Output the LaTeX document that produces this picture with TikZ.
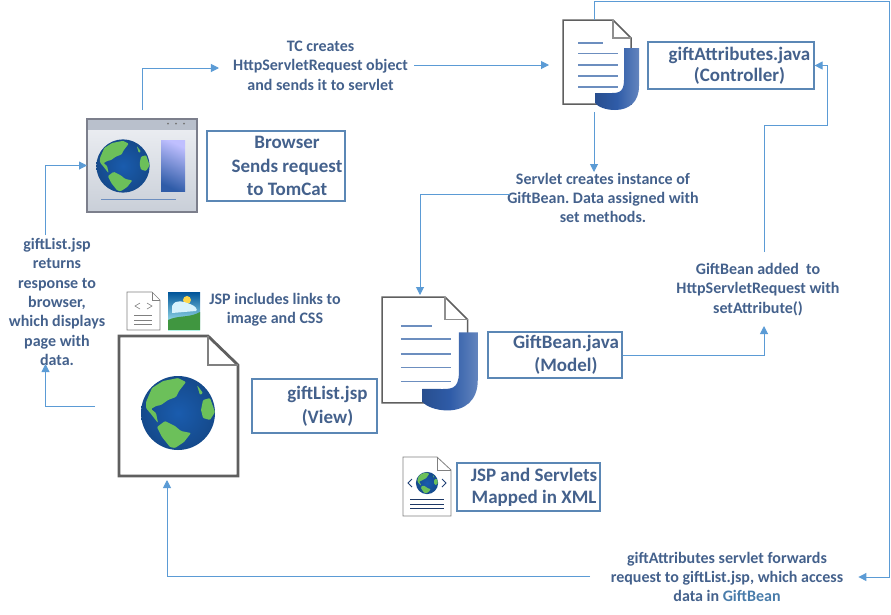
\documentclass[tikz,border=0pt]{standalone}
\usepackage{fontspec}
\setmainfont{Carlito}[BoldFont=Carlito Bold]
\usetikzlibrary{arrows.meta,calc,positioning}
\definecolor{flowblue}{HTML}{5B9BD5}
\definecolor{boxblue}{HTML}{5B87B5}
\definecolor{txtblue}{HTML}{44618C}
\definecolor{docgrey}{HTML}{5F5F5F}
\definecolor{linblue}{HTML}{6C8EBF}
\definecolor{jblue}{HTML}{2F5CA8}
\definecolor{oceanblue}{HTML}{1A5CAE}
\definecolor{landgreen}{HTML}{6CC05A}
\definecolor{winframe}{HTML}{7C7F8C}
\definecolor{wintitle}{HTML}{B9C0CC}
\definecolor{wintop}{HTML}{EEF0F4}
\definecolor{winbot}{HTML}{C9CFD8}
\frenchspacing

\tikzset{
  flow/.style={flowblue, line width=1pt, -{Triangle[length=8pt,width=8pt]}},
  outbox/.style={draw=boxblue, line width=1.2pt, inner sep=0pt},
  boxtxt/.style={txtblue, font=\fontsize{19}{23.5}\selectfont\bfseries, align=center},
  lbl/.style={txtblue, font=\fontsize{16}{19.4}\selectfont\bfseries, align=center},
  iconbox/.style={inner sep=0pt, outer sep=0pt},
  pics/globe/.style={code={
    % ocean and the land masses
    \shade[inner color=oceanblue, outer color=oceanblue!80!black] (0,0) circle (37);
    \begin{scope}[rounded corners=1pt]
    \fill[landgreen] (-32,-11) -- (-26,-25) -- (-15,-32) -- (0,-35) -- (8,-31) -- (1,-22) -- (-2,-16)
      -- (-10,-13) -- (-17,-8) -- (-22,-7) -- (-27,-4) -- (-22,0) -- (-20,10) -- (-27,1) -- (-32,-5) -- cycle;
    \fill[landgreen] (-21,14) -- (-13,8) -- (-3,13) -- (3,18) -- (13,20) -- (6,29) -- (-3,35) -- (-8,34) -- (-16,24) -- cycle;
    \fill[landgreen] (25,-13) -- (32,-15) -- (37,-1) -- (32,7) -- (25,5) -- (23,-3) -- cycle;
    \fill[landgreen] (19,-28) -- (25,-20) -- (22,-18) -- cycle;
    \end{scope}
  }},
  pics/javadoc/.style={code={
    % page, origin at its top left corner
    \draw[docgrey, line width=1.5pt, fill=white, line join=miter]
      (0,0) -- (50,0) -- (68,18) -- (68,84) -- (0,84) -- cycle;
    \draw[docgrey!70, line width=1.5pt] (50,0) -- (50,18) -- (68,18);
    \draw[linblue, line width=1.6pt] (15,23) -- (40,23);
    \foreach \yy in {33.5,45,56,67}
      \draw[linblue, line width=1.6pt] (15,\yy) -- (55,\yy);
    \shade[left color=jblue!85!black, right color=jblue!75!white, middle color=jblue]
      (61,28) -- (76,28) -- (76,66) .. controls (76,82) and (66,90) .. (52,90)
      .. controls (43,90) and (35,87) .. (32,83) -- (32,73) -- (45,73)
      .. controls (54,73) and (61,74) .. (61,60) -- cycle;
  }}
}

\begin{document}
\begin{tikzpicture}[x=1pt,y=-1pt,line cap=butt]

\useasboundingbox (0,0) rectangle (891,614);

% --- browser window
\node[iconbox, minimum width=110pt, minimum height=93pt] (browser) at (142,165.5) {};
\fill[top color=wintop, bottom color=winbot, draw=winframe, line width=2.4pt]
  (browser.north west) rectangle (browser.south east);
\fill[wintitle] (88,120) rectangle (196,130);
\foreach \xx in {168,176,184} \fill[black!55] (\xx,123.5) circle (1);
\pic[scale=0.72] at (123,166) {globe};
\shade[top color=blue!25!white, bottom color=jblue, shading angle=-25]
  (161,140) rectangle (185,191);
\draw[linblue, line width=1.4pt] (101,199.5) -- (176,199.5);

% --- controller, model and view pages
\node[iconbox, minimum width=76pt, minimum height=90pt, anchor=north west] (ctrldoc) at (563,20) {};
\pic at (ctrldoc.north west) {javadoc};
\node[iconbox, minimum width=95pt, minimum height=115pt, anchor=north west] (modeldoc) at (382,297) {};
\pic[scale=1.26] at (modeldoc.north west) {javadoc};

\node[iconbox, minimum width=119pt, minimum height=140pt, anchor=north west] (viewdoc) at (119,336) {};
\draw[docgrey, line width=2.8pt, fill=white, line join=miter]
  (119,336) -- (208,336) -- (238,365) -- (238,476) -- (119,476) -- cycle;
\draw[gray, line width=2.2pt] (208,336) -- (208,365) -- (238,365);
\pic at (178,413) {globe};

% --- css page and image
\node[iconbox, minimum width=33pt, minimum height=38pt, anchor=north west] (cssdoc) at (127,292) {};
\draw[gray, line width=0.6pt, fill=white] (127,292) -- (152,292) -- (160,300) -- (160,330) -- (127,330) -- cycle;
\draw[gray, line width=0.6pt] (152,292) -- (152,300) -- (160,300);
\draw[gray, line width=0.6pt] (140,303) -- (135,306) -- (140,309) (147,303) -- (152,306) -- (147,309);
\draw[gray, line width=0.6pt] (134,315) -- (152,315) (134,320) -- (152,320) (134,324) -- (152,324);

\node[iconbox, minimum width=32pt, minimum height=38pt, anchor=north west] (imgicon) at (168,292) {};
\shade[top color=blue!45!cyan!60!black, bottom color=cyan!25!white] (168,292) rectangle (200,330);
\fill[yellow!60!orange!70!white] (187,300) circle (4);
\fill[white!85!cyan] (172,306) .. controls (176,298) and (184,302) .. (190,304) .. controls (196,306) and (198,310) .. (196,311) -- (172,313) -- cycle;
\fill[green!45!black!75!white] (168,330) -- (168,320) .. controls (178,315) and (190,318) .. (200,312) -- (200,330) -- cycle;

% --- xml page
\node[iconbox, minimum width=48pt, minimum height=59pt, anchor=north west] (xmldoc) at (403,457) {};
\draw[gray, line width=0.8pt, fill=white] (403,457) -- (437,457) -- (451,470) -- (451,516) -- (403,516) -- cycle;
\draw[gray, line width=0.8pt] (437,457) -- (437,470) -- (451,470);
\pic[scale=0.3] at (427,483) {globe};
\draw[jblue!70!black, line width=0.8pt] (412,479) -- (408,483) -- (412,487) (442,479) -- (446,483) -- (442,487);
\draw[jblue!60!black, line width=0.8pt] (410,499.5) -- (444,499.5) (410,504) -- (444,504) (410,508) -- (444,508);

% --- boxes, their text sits right of centre
\node[outbox, minimum width=138pt, minimum height=70pt] (brwbox) at (276,166) {};
\node[boxtxt] (brwtxt) at (287,166) {Browser\\Sends request\\to TomCat};
\node[outbox, minimum width=166pt, minimum height=47pt] (ctrlbox) at (731,65.5) {};
\node[boxtxt, font=\fontsize{19}{21}\selectfont\bfseries] (ctrltxt) at (739.5,65.5) {giftAttributes.java\\(Controller)};
\node[outbox, minimum width=125pt, minimum height=54pt] (viewbox) at (314.5,406) {};
\node[boxtxt] (viewtxt) at (327.5,406.5) {giftList.jsp\\(View)};
\node[outbox, minimum width=134pt, minimum height=46pt] (modelbox) at (555,355) {};
\node[boxtxt, font=\fontsize{19}{23}\selectfont\bfseries] (modeltxt) at (566,354.5) {GiftBean.java\\(Model)};
\node[outbox, minimum width=143pt, minimum height=48pt] (xmlbox) at (528.5,487) {};
\node[boxtxt, font=\fontsize{19}{22}\selectfont\bfseries] (xmltxt) at (534,487) {JSP and Servlets\\Mapped in XML};

% --- step labels
\node[lbl, inner xsep=14pt] (tclbl) at (320.5,65.5) {TC creates\\HttpServletRequest object\\and sends it to servlet};
\node[lbl] (instlbl) at (603,198) {Servlet creates instance of\\GiftBean. Data assigned with\\set methods.};
\node[lbl] (addlbl) at (758,289.5) {GiftBean added~~to\\HttpServletRequest with\\setAttribute()};
\node[lbl] (resplbl) at (57,302) {giftList.jsp\\returns\\response to\\browser,\\which displays\\page with\\data.};
\node[lbl] (jsplbl) at (275,309.5) {JSP includes links to\\image and CSS};
\node[lbl, inner xsep=15pt] (fwdlbl) at (727,577) {giftAttributes servlet forwards\\request to giftList.jsp, which access\\data in {\color{flowblue!80!black}GiftBean}};

% --- connectors
\draw[flow] ([yshift=9pt]browser.north) |- (tclbl.west |- 0,68);
\draw[flow] ([xshift=-8pt]tclbl.east |- 0,65) -- (549,65);
\draw[flow] (594,112) -- (594,172);
\draw[flow] (510,194) -| (420,295);
\draw[flow] (modelbox.east) -| (764,326);
\draw[flow] (764,252) |- (827,125) |- (ctrlbox.east);
\draw[flow] (590,576) -| (167,480);
\draw[flow] (95,406) -| (45.5,364);
\draw[flow] (45.5,235) |- (browser.west);
\draw[flow] (594,20) |- (889,1) |- (fwdlbl.east |- 0,577);

\end{tikzpicture}
\end{document}
